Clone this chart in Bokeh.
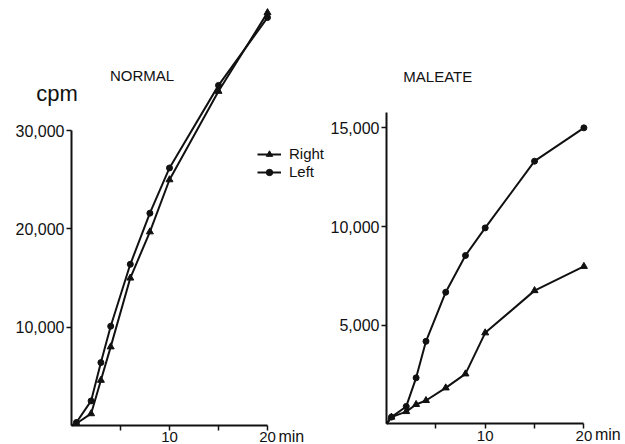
from bokeh.plotting import figure
from bokeh.layouts import row
from bokeh.models import FixedTicker, Label, Legend, LegendItem, NumeralTickFormatter, Range1d
from bokeh.embed import file_html
from bokeh.resources import INLINE

# sampling times (min) and counts (cpm)
minutes = [0, 0.5, 2, 3, 4, 6, 8, 10, 15, 20]
normal_right = [0, 200, 1200, 4600, 8000, 15000, 19700, 25000, 34000, 42000]
normal_left = [0, 300, 2500, 6400, 10100, 16400, 21600, 26200, 34600, 41500]
maleate_right = [0, 340, 620, 980, 1180, 1820, 2530, 4610, 6750, 7980]
maleate_left = [0, 340, 880, 2330, 4180, 6670, 8530, 9930, 13310, 15000]

x_ticks = [5, 10, 15, 20]
x_tick_labels = {5: "", 10: "10", 15: "", 20: "20"}
normal_y_ticks = [10000, 20000, 30000]
maleate_y_ticks = [5000, 10000, 15000]

FONT = "Liberation Sans"
INK = "#111111"


def make_panel(width, x_range, y_range, y_ticks, y_top):
    # the frame fills the whole canvas; axes sit on the data origin
    p = figure(width=width, height=444, x_range=Range1d(*x_range), y_range=Range1d(*y_range),
               output_backend="svg", toolbar_location=None,
               min_border_left=0, min_border_right=0,
               min_border_top=0, min_border_bottom=0)
    p.xgrid.visible = False
    p.ygrid.visible = False
    p.outline_line_color = None
    p.background_fill_color = "white"
    p.border_fill_color = "white"

    xa = p.xaxis[0]
    xa.ticker = FixedTicker(ticks=x_ticks)
    xa.major_label_overrides = x_tick_labels
    xa.bounds = (0, 20)
    xa.fixed_location = 0
    ya = p.yaxis[0]
    ya.ticker = FixedTicker(ticks=y_ticks)
    ya.formatter = NumeralTickFormatter(format="0,0")
    ya.bounds = (0, y_top)
    ya.fixed_location = 0
    for ax in (xa, ya):
        ax.axis_line_width = 2
        ax.axis_line_color = INK
        ax.major_tick_line_color = INK
        ax.major_tick_line_width = 1.5
        ax.major_tick_in = 0
        ax.major_tick_out = 5
        ax.minor_tick_in = 0
        ax.minor_tick_out = 0
        ax.major_label_text_font = FONT
        ax.major_label_text_color = INK
        ax.major_label_standoff = 2
    xa.major_label_text_font_size = "15px"
    ya.major_label_text_font_size = "16px"

    p.add_layout(Label(x=20, y=0, x_offset=11, y_offset=-11, text="min",
                       text_font=FONT, text_font_size="16px", text_color=INK,
                       text_baseline="alphabetic"))
    return p


def draw_pair(p, right_vals, left_vals):
    rl = p.line(minutes, right_vals, line_width=2, color=INK)
    rm = p.scatter(minutes[1:], right_vals[1:], marker="triangle", size=7, color=INK)
    ll = p.line(minutes, left_vals, line_width=2, color=INK)
    lm = p.scatter(minutes[1:], left_vals[1:], marker="circle", size=6, color=INK)
    return (rl, rm), (ll, lm)


# NORMAL
p1 = make_panel(330, (-7.245, 26.43), (-1933, 43235), normal_y_ticks, 30000)
(r_line, r_mark), (l_line, l_mark) = draw_pair(p1, normal_right, normal_left)
p1.add_layout(Label(x=7.2, y=34700, text="NORMAL", text_align="center",
                    text_font=FONT, text_font_size="15px", text_color=INK))
p1.add_layout(Label(x=-3.6, y=32500, text="cpm", text_align="left",
                    text_font=FONT, text_font_size="22px", text_color=INK))
legend = Legend(items=[LegendItem(label="Right", renderers=[r_line, r_mark]),
                       LegendItem(label="Left", renderers=[l_line, l_mark])],
                location=(257, 264), glyph_width=24, glyph_height=16, label_height=16,
                label_standoff=8, spacing=1, padding=0, margin=0,
                border_line_color=None, background_fill_alpha=0,
                label_text_font=FONT, label_text_font_size="15px", label_text_color=INK)
p1.add_layout(legend)

# MALEATE
p2 = make_panel(295, (-5.674, 24.215), (-1049, 21455), maleate_y_ticks, 15800)
draw_pair(p2, maleate_right, maleate_left)
p2.add_layout(Label(x=5.2, y=17150, text="MALEATE", text_align="center",
                    text_font=FONT, text_font_size="15px", text_color=INK))

layout = row(p1, p2)
open("out.html", "w").write(file_html(layout, INLINE))
